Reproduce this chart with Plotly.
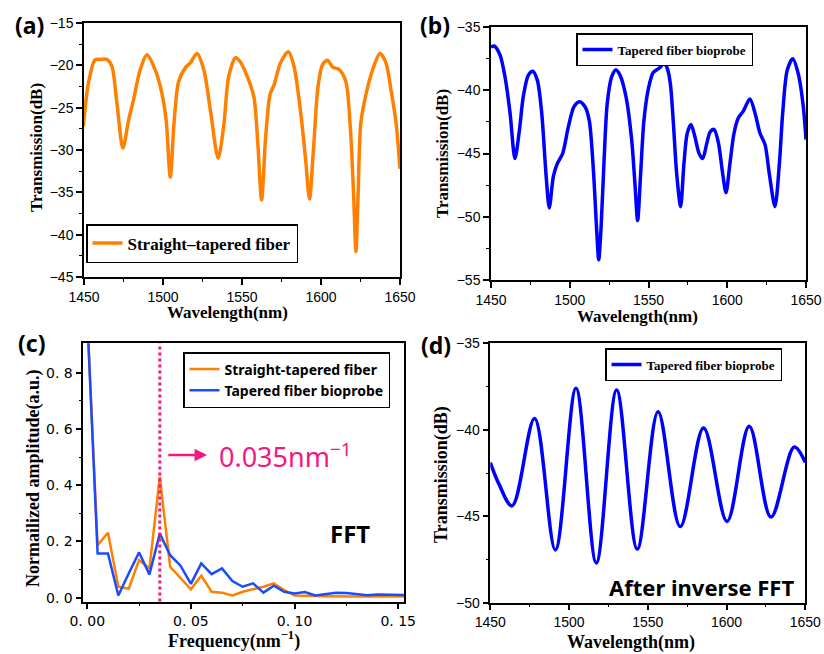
import plotly.graph_objects as go

# ---------------- data ----------------
# (a) Straight-tapered fiber transmission spectrum
wl_a = [1449.6, 1452.8, 1457.0, 1460.5, 1464.4, 1467.6, 1470.8, 1474.6, 1478.2, 1481.3,
        1485.6, 1489.8, 1495.0, 1499.3, 1502.0, 1504.6, 1507.1, 1509.9, 1514.1, 1517.3,
        1521.5, 1525.8, 1530.0, 1534.9, 1538.4, 1541.6, 1545.9, 1549.0, 1553.3, 1557.5,
        1560.0, 1562.4, 1565.0, 1567.7, 1570.3, 1574.4, 1579.3, 1582.9, 1587.2, 1590.3,
        1592.7, 1595.2, 1598.1, 1601.0, 1604.1, 1607.3, 1611.5, 1615.7, 1618.5, 1620.6,
        1622.1, 1623.5, 1625.2, 1628.4, 1632.7, 1637.3, 1641.1, 1644.3, 1647.5, 1650.0]
tr_a = [-27.2, -22.1, -19.35, -19.3, -19.3, -20.1, -24.4, -29.8, -26.5, -24.1,
        -20.5, -18.75, -20.5, -23.3, -26.5, -33.2, -26.5, -21.9, -20.3, -19.7,
        -18.6, -20.5, -25.3, -31.0, -27.2, -21.3, -19.1, -19.6, -21.3, -23.7,
        -29.2, -35.9, -28.4, -23.5, -22.3, -19.7, -18.4, -20.1, -25.7, -31.2,
        -35.8, -30.0, -22.5, -19.9, -19.4, -20.2, -20.5, -21.9, -27.2, -35.1,
        -42.0, -35.1, -26.8, -23.5, -20.5, -18.6, -19.7, -22.9, -26.8, -32.2]

# (b) Tapered fiber bioprobe transmission spectrum
wl_b = [1450.0, 1452.0, 1455.7, 1458.9, 1462.1, 1465.2, 1468.0, 1470.5, 1473.7, 1476.5,
        1479.4, 1482.2, 1484.9, 1487.0, 1489.6, 1492.1, 1495.5, 1499.1, 1502.7, 1506.1,
        1509.7, 1512.4, 1515.0, 1517.1, 1518.4, 1519.8, 1521.7, 1523.8, 1526.6, 1529.2,
        1531.9, 1535.7, 1539.3, 1541.4, 1543.1, 1545.0, 1547.1, 1549.9, 1553.0, 1557.3,
        1559.8, 1562.0, 1563.9, 1565.8, 1567.9, 1570.4, 1572.5, 1574.6, 1577.0, 1579.5,
        1582.1, 1584.4, 1587.0, 1589.1, 1591.6, 1594.3, 1597.1, 1599.2, 1601.7, 1604.3,
        1607.0, 1610.2, 1614.4, 1617.6, 1620.8, 1624.0, 1626.7, 1630.3, 1633.1, 1635.2,
        1638.1, 1641.6, 1645.1, 1648.3, 1650.0]
tr_b = [-36.6, -36.5, -37.2, -38.95, -41.8, -45.4, -43.2, -40.5, -38.8, -38.5,
        -39.2, -41.8, -46.6, -49.3, -46.8, -45.8, -45.0, -42.9, -41.3, -40.9,
        -41.3, -42.4, -46.3, -51.05, -53.4, -51.05, -45.8, -41.05, -38.95, -38.4,
        -38.8, -40.5, -43.9, -47.4, -50.3, -46.6, -42.4, -39.9, -38.6, -38.2,
        -37.85, -38.3, -39.5, -42.6, -46.6, -49.2, -45.8, -43.4, -42.7, -43.7,
        -45.0, -45.4, -44.2, -43.3, -43.1, -44.1, -46.6, -48.1, -45.8, -43.4,
        -42.2, -41.65, -40.7, -41.8, -43.4, -44.3, -46.6, -49.2, -45.8, -41.8,
        -38.4, -37.5, -38.7, -41.3, -43.9]

# (c) FFT spectra
freq = [0.000, 0.005, 0.010, 0.015, 0.020, 0.025, 0.030, 0.035, 0.040, 0.045,
        0.050, 0.055, 0.060, 0.065, 0.070, 0.075, 0.080, 0.085, 0.090, 0.095,
        0.100, 0.105, 0.110, 0.115, 0.120, 0.125, 0.130, 0.135, 0.140, 0.145,
        0.150, 0.155]
amp_straight = [1.00, 0.187, 0.231, 0.039, 0.032, 0.134, 0.104, 0.430, 0.110, 0.069,
                0.030, 0.078, 0.021, 0.018, 0.008, 0.021, 0.030, 0.039, 0.051, 0.027,
                0.008, 0.008, 0.006, 0.005, 0.004, 0.004, 0.004, 0.004, 0.004, 0.004,
                0.004, 0.004]
amp_bioprobe = [1.00, 0.157, 0.157, 0.008, 0.086, 0.161, 0.083, 0.228, 0.151, 0.114,
                0.049, 0.122, 0.084, 0.104, 0.059, 0.039, 0.051, 0.018, 0.043, 0.021,
                0.015, 0.020, 0.008, 0.013, 0.018, 0.017, 0.013, 0.009, 0.011, 0.011,
                0.009, 0.009]
peak_freq = 0.035

# (d) after inverse FFT
wl_d = [1450.0, 1455.3, 1463.8, 1478.1, 1491.3, 1504.4, 1517.3, 1530.2, 1543.3, 1556.5,
        1570.6, 1585.4, 1600.3, 1614.4, 1628.2, 1643.0, 1650.0]
tr_d = [-41.9, -43.1, -44.4, -39.35, -46.95, -37.6, -47.7, -37.7, -46.9, -38.96,
        -45.6, -39.9, -45.3, -39.8, -45.05, -41.0, -41.9]

wl_ticks = [1450, 1500, 1550, 1600, 1650]
freq_tickvals = [0.0, 0.05, 0.10, 0.15]
freq_ticktext = ["0. 00", "0. 05", "0. 10", "0. 15"]
amp_tickvals = [0.0, 0.2, 0.4, 0.6, 0.8]
amp_ticktext = ["0. 0", "0. 2", "0. 4", "0. 6", "0. 8"]

# ---------------- styling helpers ----------------
W, H = 824, 654
def px(x):
    return x / W
def py(y):
    return 1 - y / H

ORANGE = "#FF8000"
BLUE = "#0000FF"
BLUE_C = "#1A4CFF"
PINK = "#F5167E"

SERIF = "Liberation Serif"
SANS = "Liberation Sans"

def axis_style(**kw):
    d = dict(showline=True, linecolor="black", linewidth=1.5, mirror=True,
             ticks="outside", ticklen=6, tickwidth=1.5, tickcolor="black",
             showgrid=False, zeroline=False, automargin=False,
             tickfont=dict(family=SANS, size=14, color="black"))
    d.update(kw)
    return d

fig = go.Figure()

fig.add_trace(go.Scatter(x=wl_a, y=tr_a, mode="lines", name="Straight\u2013tapered fiber",
                         line=dict(color=ORANGE, width=3.5, shape="spline", smoothing=0.8),
                         xaxis="x", yaxis="y", legend="legend"))
fig.add_trace(go.Scatter(x=wl_b, y=tr_b, mode="lines", name="Tapered fiber bioprobe",
                         line=dict(color=BLUE, width=3.5, shape="spline", smoothing=0.8),
                         xaxis="x2", yaxis="y2", legend="legend2"))
fig.add_trace(go.Scatter(x=freq, y=amp_straight, mode="lines", name="Straight-tapered fiber",
                         line=dict(color=ORANGE, width=2.5),
                         xaxis="x3", yaxis="y3", legend="legend3"))
fig.add_trace(go.Scatter(x=freq, y=amp_bioprobe, mode="lines", name="Tapered fiber bioprobe",
                         line=dict(color=BLUE_C, width=2.5),
                         xaxis="x3", yaxis="y3", legend="legend3"))
fig.add_trace(go.Scatter(x=wl_d, y=tr_d, mode="lines", name="Tapered fiber bioprobe",
                         line=dict(color=BLUE, width=3.5, shape="spline", smoothing=1.0),
                         xaxis="x4", yaxis="y4", legend="legend4"))

wl_minor = dict(ticks="outside", ticklen=3, tickwidth=1.2, tickcolor="black", dtick=25)

fig.update_layout(
    template="none",
    width=W, height=H, margin=dict(l=0, r=0, t=0, b=0, autoexpand=False),
    paper_bgcolor="white", plot_bgcolor="white", showlegend=True,
    # (a)
    xaxis=axis_style(domain=[px(84), px(400)], range=[1450, 1650], tickvals=wl_ticks,
                     minor=wl_minor, anchor="y"),
    yaxis=axis_style(domain=[py(277), py(23)], range=[-45, -15], dtick=5, tick0=-45,
                     minor=dict(ticks="outside", ticklen=3, tickwidth=1.2, tickcolor="black", dtick=2.5),
                     anchor="x"),
    # (b)
    xaxis2=axis_style(domain=[px(491), px(806)], range=[1450, 1650], tickvals=wl_ticks,
                      minor=wl_minor, anchor="y2"),
    yaxis2=axis_style(domain=[py(280), py(27)], range=[-55, -35], dtick=5, tick0=-55,
                      minor=dict(ticks="outside", ticklen=3, tickwidth=1.2, tickcolor="black", dtick=2.5),
                      anchor="x2"),
    # (c)
    xaxis3=axis_style(domain=[px(83.3), px(404)], range=[-0.0019, 0.1528],
                      tickmode="array", tickvals=freq_tickvals, ticktext=freq_ticktext,
                      tickfont=dict(family="DejaVu Sans", size=14, color="black"),
                      minor=dict(ticks="outside", ticklen=3, tickwidth=1.2, tickcolor="black",
                                 tickmode="array", tickvals=[0.025, 0.075, 0.125]),
                      anchor="y3"),
    yaxis3=axis_style(domain=[py(601.5), py(343.3)], range=[-0.0135, 0.9045],
                      tickmode="array", tickvals=amp_tickvals, ticktext=amp_ticktext,
                      tickfont=dict(family="DejaVu Sans", size=14, color="black"),
                      minor=dict(ticks="outside", ticklen=3, tickwidth=1.2, tickcolor="black",
                                 tickmode="array", tickvals=[0.1, 0.3, 0.5, 0.7]),
                      anchor="x3"),
    # (d)
    xaxis4=axis_style(domain=[px(490.3), px(805.3)], range=[1450, 1650], tickvals=wl_ticks,
                      minor=wl_minor, anchor="y4"),
    yaxis4=axis_style(domain=[py(602.7), py(343.3)], range=[-50, -35], dtick=5, tick0=-50,
                      minor=dict(ticks="outside", ticklen=3, tickwidth=1.2, tickcolor="black", dtick=2.5),
                      anchor="x4"),
    legend=dict(x=px(86), y=py(224), xanchor="left", yanchor="top",
                bgcolor="white", bordercolor="black", borderwidth=1.5, itemwidth=30,
                font=dict(family=SERIF, size=17, color="black", weight="bold")),
    legend2=dict(x=px(576), y=py(33), xanchor="left", yanchor="top",
                 bgcolor="white", bordercolor="black", borderwidth=1.5, itemwidth=30,
                 font=dict(family=SERIF, size=13, color="black", weight="bold")),
    legend3=dict(x=px(183), y=py(352), xanchor="left", yanchor="top",
                 bgcolor="white", bordercolor="black", borderwidth=1.5, itemwidth=30,
                 tracegroupgap=0,
                 font=dict(family="Noto Sans", size=14, color="black", weight="bold")),
    legend4=dict(x=px(605), y=py(348), xanchor="left", yanchor="top",
                 bgcolor="white", bordercolor="black", borderwidth=1.5, itemwidth=30,
                 font=dict(family=SERIF, size=13, color="black", weight="bold")),
)

# dotted marker line at the FFT peak
fig.add_shape(type="line", xref="x3", yref="y3 domain", x0=peak_freq, x1=peak_freq, y0=0, y1=1,
              line=dict(color=PINK, width=3, dash="dot"))

ann = []
# arrow
ann.append(dict(xref="x3", yref="y3", axref="x3", ayref="y3", x=0.0578, y=0.507,
                ax=0.0384, ay=0.507, text="", showarrow=True, arrowhead=2, arrowsize=1,
                arrowwidth=2.5, arrowcolor=PINK))
ann.append(dict(xref="x3", yref="y3", x=0.0626, y=0.507, xanchor="left", yanchor="middle",
                text="0.035nm<sup>\u22121</sup>", showarrow=False,
                font=dict(family="Noto Sans", size=27, color=PINK)))
ann.append(dict(xref="x3", yref="y3", x=0.1267, y=0.23, xanchor="center", yanchor="middle",
                text="FFT", showarrow=False,
                font=dict(family="Noto Sans", size=24, color="black", weight="bold")))
ann.append(dict(xref="x4", yref="y4", x=1583.8, y=-49.09, xanchor="center", yanchor="middle",
                text="After inverse FFT", showarrow=False,
                font=dict(family="Noto Sans", size=22, color="black", weight="bold")))

# panel labels
for lbl, xx, yy in [("(a)", 29, 25), ("(b)", 435, 25), ("(c)", 32, 343), ("(d)", 436, 345)]:
    ann.append(dict(xref="paper", yref="paper", x=px(xx), y=py(yy), xanchor="center",
                    yanchor="middle", text=lbl, showarrow=False,
                    font=dict(family="Noto Sans", size=23, color="black", weight="bold")))

# axis titles
title_font = dict(family=SERIF, size=17, color="black", weight="bold")
title_font_l = dict(family=SERIF, size=18, color="black", weight="bold")
for txt, xx, yy, ang, f in [
        ("Transmission(dB)", 36, 148, -90, title_font),
        ("Wavelength(nm)", 227, 312, 0, title_font),
        ("Transmission(dB)", 442, 154, -90, title_font),
        ("Wavelength(nm)", 637, 316, 0, title_font),
        ("Normailized amplitude(a.u.)", 33, 478, -90, title_font_l),
        ("Frequency(nm<sup>\u22121</sup>)", 234, 640, 0, title_font_l),
        ("Transmission(dB)", 441, 475, -90, title_font_l),
        ("Wavelength(nm)", 631, 642, 0, title_font_l)]:
    ann.append(dict(xref="paper", yref="paper", x=px(xx), y=py(yy), xanchor="center",
                    yanchor="middle", text=txt, textangle=ang, showarrow=False, font=f))

fig.update_layout(annotations=ann)

fig.write_html("out.html", config={"displayModeBar": False},
               post_script="document.body.style.margin='0';document.body.style.padding='0';")
